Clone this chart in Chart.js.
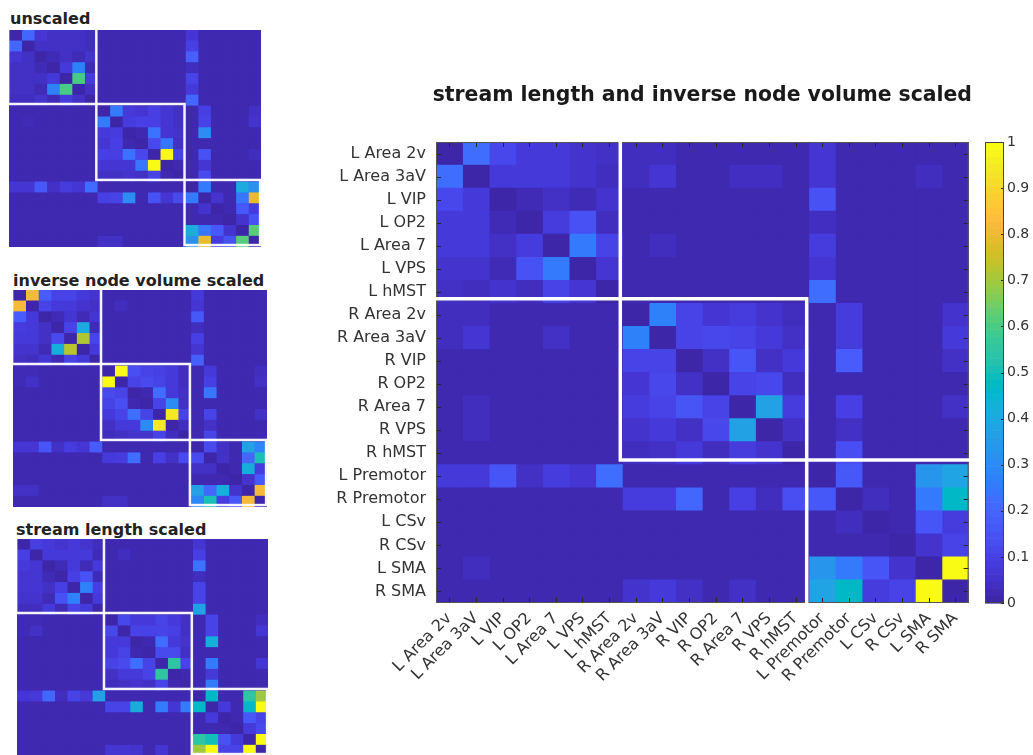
<!DOCTYPE html>
<html><head><meta charset="utf-8">
<script src="https://cdn.jsdelivr.net/npm/chart.js@4/dist/chart.umd.min.js"></script>
<style>
html,body{margin:0;padding:0;background:#fff;width:1033px;height:755px;overflow:hidden;position:relative;}
canvas{position:absolute;}
.t{position:absolute;font-family:"DejaVu Sans";font-weight:bold;font-size:16px;line-height:19px;color:#222;white-space:nowrap;}
</style></head><body>
<div class="t" style="left:10px;top:9px">unscaled</div>
<div class="t" style="left:13px;top:271px">inverse node volume scaled</div>
<div class="t" style="left:16px;top:520px">stream length scaled</div>
<canvas id="cU" width="252" height="217" style="left:9px;top:30px"></canvas>
<canvas id="cI" width="254" height="217" style="left:13px;top:290px"></canvas>
<canvas id="cS" width="251" height="217" style="left:17px;top:539px"></canvas>
<canvas id="cMain" width="675" height="755" style="left:300px;top:0px"></canvas>
<canvas id="cBar" width="58" height="755" style="left:975px;top:0px"></canvas>
<script>
const rowLabels = ['L Area 2v','L Area 3aV','L VIP','L OP2','L Area 7','L VPS','L hMST','R Area 2v','R Area 3aV','R VIP','R OP2','R Area 7','R VPS','R hMST','L Premotor','R Premotor','L CSv','R CSv','L SMA','R SMA'];
const colLabels = ['L Area 2v','L Area 3aV','L VIP','L OP2','L Area 7','L VPS','L hMST','R Area 2v','R Area 3aV','R VIP','R OP2','R Area 7','R VPS','R hMST','L Premotor','R Premotor','L CSv','R CSv','L SMA','R SMA'];
const colorbarTicks = [0,0.1,0.2,0.3,0.4,0.5,0.6,0.7,0.8,0.9,1];
const groupEdges = [0,7,14,20];

const mainValues = [
[0,.22,.11,.07,.07,.05,.04,.03,.03,.01,.01,.01,.01,.01,.06,.01,.01,.01,.01,.01],
[.22,0,.07,.07,.07,.05,.03,.03,.06,.01,.01,.035,.035,.01,.06,.01,.01,.01,.03,.01],
[.11,.07,0,.02,.04,.02,.05,.01,.01,.01,.01,.01,.01,.01,.14,.01,.01,.01,.01,.01],
[.07,.07,.02,0,.08,.14,.03,.01,.01,.01,.01,.01,.01,.01,.035,.01,.01,.01,.01,.01],
[.07,.07,.04,.08,0,.25,.10,.01,.03,.01,.01,.01,.01,.01,.08,.01,.01,.01,.01,.01],
[.05,.05,.02,.14,.25,0,.06,.01,.01,.01,.01,.01,.01,.01,.06,.01,.01,.01,.01,.01],
[.04,.03,.05,.03,.10,.06,0,.01,.01,.01,.01,.01,.01,.01,.22,.01,.01,.01,.01,.01],
[.03,.03,.01,.01,.01,.01,.01,0,.27,.10,.06,.08,.05,.03,.01,.08,.01,.01,.01,.05],
[.03,.06,.01,.01,.04,.01,.01,.27,0,.10,.11,.10,.07,.04,.01,.08,.01,.01,.01,.07],
[.01,.01,.01,.01,.01,.01,.01,.10,.10,0,.04,.15,.04,.07,.01,.17,.01,.01,.01,.04],
[.01,.01,.01,.01,.01,.01,.01,.06,.11,.04,0,.10,.11,.03,.01,.01,.01,.01,.01,.01],
[.01,.03,.01,.01,.01,.01,.01,.08,.10,.15,.10,0,.37,.08,.01,.09,.01,.01,.01,.04],
[.01,.03,.01,.01,.01,.01,.01,.05,.07,.04,.11,.37,0,.04,.01,.04,.01,.01,.01,.01],
[.01,.01,.01,.01,.01,.01,.01,.03,.04,.07,.03,.08,.05,0,.01,.13,.01,.01,.01,.01],
[.07,.07,.15,.04,.08,.06,.22,.01,.01,.01,.01,.01,.01,.01,0,.16,.01,.01,.33,.38],
[.01,.01,.01,.01,.01,.01,.01,.08,.08,.20,.01,.09,.03,.13,.16,0,.03,.01,.25,.47],
[.01,.01,.01,.01,.01,.01,.01,.01,.01,.01,.01,.01,.01,.01,.01,.03,0,.01,.15,.08],
[.01,.01,.01,.01,.01,.01,.01,.01,.01,.01,.01,.01,.01,.01,.01,.01,.01,0,.05,.10],
[.01,.03,.01,.01,.01,.01,.01,.01,.01,.01,.01,.01,.01,.01,.33,.25,.15,.05,0,1.0],
[.01,.01,.01,.01,.01,.01,.01,.05,.07,.04,.01,.04,.01,.01,.38,.47,.08,.10,1.0,0]
];

const unscaledValues = [
[0,.20,.06,.04,.04,.04,.03,.01,.01,.01,.01,.01,.01,.01,.06,.01,.01,.01,.01,.01],
[.20,0,.04,.04,.04,.04,.03,.01,.01,.01,.01,.01,.01,.01,.09,.01,.01,.01,.01,.01],
[.06,.04,0,.02,.04,.02,.05,.01,.01,.01,.01,.01,.01,.01,.18,.01,.01,.01,.01,.01],
[.04,.04,.02,0,.07,.27,.02,.01,.01,.01,.01,.01,.01,.01,.03,.01,.01,.01,.01,.01],
[.04,.04,.04,.07,0,.60,.08,.01,.01,.01,.01,.01,.01,.01,.10,.01,.01,.01,.01,.01],
[.04,.04,.02,.27,.60,0,.04,.01,.01,.01,.01,.01,.01,.01,.07,.01,.01,.01,.01,.01],
[.03,.03,.05,.02,.08,.04,0,.01,.01,.01,.01,.01,.01,.01,.20,.01,.01,.01,.01,.01],
[.01,.01,.01,.01,.01,.01,.01,0,.25,.07,.06,.09,.06,.04,.01,.09,.01,.01,.01,.04],
[.01,.02,.01,.01,.01,.01,.01,.25,0,.08,.09,.09,.06,.04,.01,.10,.01,.01,.01,.05],
[.01,.01,.01,.01,.01,.01,.01,.07,.08,0,.01,.23,.06,.05,.01,.30,.01,.01,.01,.01],
[.01,.01,.01,.01,.01,.01,.01,.06,.09,.01,0,.11,.24,.04,.01,.01,.01,.01,.01,.01],
[.01,.01,.01,.01,.01,.01,.01,.09,.09,.23,.11,0,1.0,.10,.01,.14,.01,.01,.01,.03],
[.01,.01,.01,.01,.01,.01,.01,.06,.06,.06,.24,1.0,0,.01,.01,.06,.01,.01,.01,.01],
[.01,.01,.01,.01,.01,.01,.01,.04,.04,.05,.04,.10,.01,0,.01,.12,.01,.01,.01,.01],
[.06,.06,.16,.04,.08,.06,.21,.01,.01,.01,.01,.01,.01,.01,0,.25,.01,.01,.40,.32],
[.01,.01,.01,.01,.01,.01,.01,.09,.10,.30,.01,.14,.06,.12,.25,0,.05,.01,.24,.80],
[.01,.01,.01,.01,.01,.01,.01,.01,.01,.01,.01,.01,.01,.01,.01,.05,0,.01,.16,.08],
[.01,.01,.01,.01,.01,.01,.01,.01,.01,.01,.01,.01,.01,.01,.01,.01,.01,0,.05,.14],
[.01,.01,.01,.01,.01,.01,.01,.01,.01,.01,.01,.01,.01,.01,.40,.24,.16,.05,0,.62],
[.01,.01,.01,.01,.01,.01,.01,.04,.04,.01,.01,.01,.01,.01,.32,.80,.08,.14,.62,0]
];

const inverseValues = [
[0,.82,.17,.10,.10,.07,.05,.01,.01,.01,.01,.01,.01,.01,.07,.01,.01,.01,.01,.01],
[.82,0,.10,.07,.07,.05,.04,.01,.03,.01,.01,.01,.01,.01,.06,.01,.01,.01,.01,.01],
[.17,.07,0,.02,.06,.02,.06,.01,.01,.01,.01,.01,.01,.01,.16,.01,.01,.01,.01,.01],
[.08,.07,.04,0,.10,.40,.02,.01,.01,.01,.01,.01,.01,.01,.03,.01,.01,.01,.01,.01],
[.07,.07,.04,.12,0,.72,.10,.01,.01,.01,.01,.01,.01,.01,.09,.01,.01,.01,.01,.01],
[.05,.05,.02,.42,.73,0,.07,.01,.01,.01,.01,.01,.01,.01,.06,.01,.01,.01,.01,.01],
[.04,.03,.06,.02,.10,.07,0,.01,.01,.01,.01,.01,.01,.01,.18,.01,.01,.01,.01,.01],
[.02,.02,.01,.01,.01,.01,.01,0,1.0,.13,.10,.09,.07,.03,.01,.07,.01,.01,.01,.03],
[.02,.04,.01,.01,.01,.01,.01,1.0,0,.10,.12,.10,.07,.03,.01,.09,.01,.01,.01,.04],
[.01,.01,.01,.01,.01,.01,.01,.12,.10,0,.01,.22,.07,.04,.01,.24,.01,.01,.01,.01],
[.01,.01,.01,.01,.01,.01,.01,.10,.13,.01,0,.10,.30,.04,.01,.01,.01,.01,.01,.01],
[.01,.01,.01,.01,.01,.01,.01,.07,.10,.22,.10,0,.95,.10,.01,.10,.01,.01,.01,.04],
[.01,.01,.01,.01,.01,.01,.01,.04,.07,.07,.30,.95,0,.03,.01,.04,.01,.01,.01,.01],
[.01,.01,.01,.01,.01,.01,.01,.03,.04,.05,.05,.10,.03,0,.01,.10,.01,.01,.01,.01],
[.06,.06,.15,.04,.08,.06,.17,.01,.01,.01,.01,.01,.01,.01,0,.12,.04,.01,.37,.28],
[.01,.01,.01,.01,.01,.01,.01,.07,.08,.22,.01,.09,.04,.12,.12,0,.04,.01,.20,.51],
[.01,.01,.01,.01,.01,.01,.01,.01,.01,.01,.01,.01,.01,.01,.04,.04,0,.01,.41,.08],
[.01,.01,.01,.01,.01,.01,.01,.01,.01,.01,.01,.01,.01,.01,.01,.01,.01,0,.05,.16],
[.04,.04,.01,.01,.01,.01,.01,.01,.01,.01,.01,.01,.01,.01,.37,.20,.41,.05,0,.82],
[.01,.01,.01,.01,.01,.01,.01,.04,.04,.01,.01,.01,.01,.01,.28,.51,.08,.16,.82,0]
];

const streamValues = [
[0,.09,.07,.05,.07,.05,.03,.01,.01,.01,.01,.01,.01,.01,.06,.01,.01,.01,.01,.01],
[.09,0,.07,.07,.07,.07,.02,.01,.03,.01,.01,.01,.01,.01,.09,.01,.01,.01,.01,.01],
[.07,.06,0,.02,.07,.02,.07,.01,.01,.01,.01,.01,.01,.01,.23,.01,.01,.01,.01,.01],
[.06,.06,.02,0,.09,.14,.02,.01,.01,.01,.01,.01,.01,.01,.03,.01,.01,.01,.01,.01],
[.06,.06,.04,.09,0,.27,.09,.01,.01,.01,.01,.01,.01,.01,.10,.01,.01,.01,.01,.01],
[.05,.05,.02,.14,.27,0,.07,.01,.01,.01,.01,.01,.01,.01,.10,.01,.01,.01,.01,.01],
[.03,.03,.07,.02,.10,.07,0,.01,.01,.01,.01,.01,.01,.01,.37,.01,.01,.01,.01,.01],
[.02,.02,.01,.01,.01,.01,.01,0,.11,.07,.07,.10,.07,.04,.01,.10,.01,.01,.01,.03],
[.02,.04,.01,.01,.01,.01,.01,.11,0,.10,.10,.10,.09,.04,.01,.10,.01,.01,.01,.06],
[.01,.01,.01,.01,.01,.01,.01,.07,.07,0,.01,.22,.07,.05,.01,.42,.01,.01,.01,.01],
[.01,.01,.01,.01,.01,.01,.01,.07,.10,.01,0,.12,.12,.04,.01,.01,.01,.01,.01,.01],
[.01,.01,.01,.01,.01,.01,.01,.10,.12,.22,.10,0,.55,.10,.01,.25,.01,.01,.01,.06],
[.01,.01,.01,.01,.01,.01,.01,.04,.07,.07,.10,.55,0,.01,.01,.07,.01,.01,.01,.01],
[.01,.01,.01,.01,.01,.01,.01,.03,.04,.05,.04,.10,.01,0,.01,.25,.01,.01,.01,.01],
[.06,.07,.20,.03,.10,.07,.36,.01,.01,.01,.01,.01,.01,.01,0,.47,.01,.01,.55,.70],
[.01,.01,.01,.01,.01,.01,.01,.10,.10,.42,.01,.25,.06,.25,.47,0,.07,.01,.47,1.0],
[.01,.01,.01,.01,.01,.01,.01,.01,.01,.01,.01,.01,.01,.01,.01,.07,0,.01,.16,.10],
[.01,.01,.01,.01,.01,.01,.01,.01,.01,.01,.01,.01,.01,.01,.01,.01,.01,0,.07,.12],
[.01,.01,.01,.01,.01,.01,.01,.01,.01,.01,.01,.01,.01,.01,.55,.50,.14,.07,0,1.0],
[.01,.01,.01,.01,.01,.01,.01,.06,.06,.05,.01,.06,.01,.01,.70,1.0,.10,.10,1.0,0]
];

// MATLAB parula(64) colormap
const PARULA = [
[0.2422,0.1504,0.6603],[0.2504,0.1650,0.7076],[0.2578,0.1818,0.7511],[0.2647,0.1978,0.7952],
[0.2706,0.2147,0.8364],[0.2751,0.2342,0.8710],[0.2783,0.2559,0.8991],[0.2803,0.2782,0.9221],
[0.2813,0.3006,0.9414],[0.2810,0.3228,0.9579],[0.2795,0.3447,0.9717],[0.2760,0.3667,0.9829],
[0.2699,0.3892,0.9906],[0.2602,0.4123,0.9952],[0.2440,0.4358,0.9988],[0.2206,0.4603,0.9973],
[0.1963,0.4847,0.9892],[0.1834,0.5074,0.9798],[0.1786,0.5289,0.9682],[0.1764,0.5499,0.9520],
[0.1687,0.5703,0.9359],[0.1540,0.5902,0.9218],[0.1460,0.6091,0.9079],[0.1380,0.6276,0.8973],
[0.1248,0.6459,0.8883],[0.1113,0.6635,0.8763],[0.0952,0.6798,0.8598],[0.0689,0.6948,0.8394],
[0.0297,0.7082,0.8163],[0.0036,0.7203,0.7917],[0.0067,0.7312,0.7660],[0.0433,0.7411,0.7394],
[0.0964,0.7500,0.7120],[0.1408,0.7584,0.6842],[0.1717,0.7670,0.6554],[0.1938,0.7758,0.6251],
[0.2161,0.7843,0.5923],[0.2470,0.7918,0.5567],[0.2906,0.7973,0.5188],[0.3406,0.8008,0.4789],
[0.3909,0.8029,0.4354],[0.4456,0.8024,0.3909],[0.5044,0.7993,0.3480],[0.5616,0.7942,0.3045],
[0.6174,0.7876,0.2612],[0.6720,0.7793,0.2227],[0.7242,0.7698,0.1910],[0.7738,0.7598,0.1646],
[0.8203,0.7498,0.1535],[0.8634,0.7406,0.1596],[0.9035,0.7330,0.1774],[0.9393,0.7288,0.2100],
[0.9728,0.7298,0.2394],[0.9956,0.7434,0.2371],[0.9970,0.7659,0.2199],[0.9952,0.7893,0.2028],
[0.9892,0.8136,0.1885],[0.9786,0.8386,0.1766],[0.9676,0.8639,0.1643],[0.9610,0.8890,0.1537],
[0.9597,0.9135,0.1423],[0.9628,0.9373,0.1265],[0.9691,0.9606,0.1064],[0.9769,0.9839,0.0805]
];
function parula(v){
  v = Math.max(0, Math.min(1, v));
  const p = v * 63, i = Math.floor(p), f = p - i;
  const a = PARULA[i], b = PARULA[Math.min(63, i + 1)];
  const c = k => Math.round(255 * (a[k] + (b[k] - a[k]) * f));
  return 'rgb(' + c(0) + ',' + c(1) + ',' + c(2) + ')';
}

Chart.defaults.font.family = 'DejaVu Sans';
Chart.defaults.color = '#262626';

function heatDatasets(matrix){
  return colLabels.map((c, j) => ({
    label: c,
    data: rowLabels.map(() => [j, j + 1]),
    backgroundColor: rowLabels.map((_, i) => parula(matrix[i][j])),
    borderWidth: 0,
    barPercentage: 1,
    categoryPercentage: 1,
    grouped: false
  }));
}

const boxPlugin = {
  id: 'boxes',
  beforeDatasetsDraw(chart) {
    const a = chart.chartArea, ctx = chart.ctx;
    ctx.save();
    ctx.fillStyle = parula(0.01);
    ctx.fillRect(a.left, a.top, a.right - a.left, a.bottom - a.top);
    ctx.restore();
  },
  afterDatasetsDraw(chart, args, opts) {
    const ctx = chart.ctx, xs = chart.scales.x, ys = chart.scales.y, a = chart.chartArea;
    const X = v => xs.getPixelForValue(v + opts.dx);
    const Y = k => ys.getPixelForValue(k - 0.5 + opts.dy);
    ctx.save();
    if (opts.axes) {
      ctx.strokeStyle = '#262626';
      ctx.lineWidth = 1;
      ctx.beginPath();
      rowLabels.forEach((_, i) => {
        const py = Math.round(ys.getPixelForValue(i)) + 0.5;
        ctx.moveTo(a.left, py); ctx.lineTo(a.left + 5, py);
        ctx.moveTo(a.right, py); ctx.lineTo(a.right - 5, py);
      });
      colLabels.forEach((_, j) => {
        const px = Math.round(xs.getPixelForValue(j + 0.5)) + 0.5;
        ctx.moveTo(px, a.top); ctx.lineTo(px, a.top + 5);
        ctx.moveTo(px, a.bottom); ctx.lineTo(px, a.bottom - 5);
      });
      ctx.stroke();
      ctx.strokeStyle = '#555';
      ctx.strokeRect(a.left + 0.5, a.top + 0.5, a.right - a.left - 1, a.bottom - a.top - 1);
      ctx.strokeStyle = '#ffffff';
      ctx.lineWidth = opts.lineWidth;
      const g = groupEdges;
      ctx.beginPath();
      ctx.moveTo(X(g[1]), a.top - 2); ctx.lineTo(X(g[1]), Y(g[2]) + 1.5);
      ctx.moveTo(a.left - 1, Y(g[1])); ctx.lineTo(X(g[2]) + 1.5, Y(g[1]));
      ctx.moveTo(X(g[2]), Y(g[1]) - 1.5); ctx.lineTo(X(g[2]), a.bottom + 2);
      ctx.moveTo(X(g[1]) - 1.5, Y(g[2])); ctx.lineTo(a.right + 5, Y(g[2]));
      ctx.stroke();
    } else {
      ctx.strokeStyle = 'rgba(255,255,255,0.95)';
      ctx.lineWidth = opts.lineWidth;
      for (let k = 0; k < 3; k++) {
        const e0 = groupEdges[k], e1 = groupEdges[k + 1];
        ctx.strokeRect(X(e0), Y(e0), X(e1) - X(e0), Y(e1) - Y(e0));
      }
    }
    ctx.restore();
  },
  afterDraw(chart, args, opts) {
    if (!opts.title) return;
    const ctx = chart.ctx, a = chart.chartArea;
    ctx.save();
    ctx.font = 'bold 20.4px "DejaVu Sans"';
    ctx.fillStyle = '#1a1a1a';
    ctx.textAlign = 'center';
    ctx.textBaseline = 'alphabetic';
    ctx.fillText(opts.title, (a.left + a.right) / 2, opts.titleY);
    ctx.restore();
  }
};

function smallChart(id, matrix){
  return new Chart(document.getElementById(id), {
    type: 'bar',
    data: { labels: rowLabels, datasets: heatDatasets(matrix) },
    options: {
      indexAxis: 'y', responsive: false, animation: false,
      layout: { padding: 0 },
      plugins: { legend: { display: false }, tooltip: { enabled: false },
        boxes: { axes: false, dx: -0.07, dy: -0.18, lineWidth: 2.5 } },
      scales: {
        x: { type: 'linear', min: 0, max: 20, display: false },
        y: { type: 'category', display: false }
      }
    },
    plugins: [boxPlugin]
  });
}
smallChart('cU', unscaledValues);
smallChart('cI', inverseValues);
smallChart('cS', streamValues);

new Chart(document.getElementById('cMain'), {
  type: 'bar',
  data: { labels: rowLabels, datasets: heatDatasets(mainValues) },
  options: {
    indexAxis: 'y', responsive: false, animation: false,
    layout: { padding: { top: 142, right: 5, left: 0, bottom: 0 } },
    plugins: { legend: { display: false }, tooltip: { enabled: false },
      boxes: { axes: true, dx: -0.08, dy: -0.2, lineWidth: 3.5,
        title: 'stream length and inverse node volume scaled', titleY: 101 } },
    scales: {
      x: {
        type: 'linear', min: 0, max: 20, position: 'bottom',
        afterBuildTicks: s => { s.ticks = colLabels.map((_, j) => ({ value: j + 0.5 })); },
        afterFit: s => { s.height = 152; },
        ticks: { autoSkip: false, minRotation: 45, maxRotation: 45, padding: 6,
          color: '#333', font: { size: 16 }, callback: (v, i) => colLabels[i] },
        grid: { display: false, drawTicks: false }, border: { display: false }
      },
      y: {
        type: 'category',
        afterFit: s => { s.width = 136; },
        ticks: { padding: 10, color: '#333', font: { size: 16 }, autoSkip: false },
        grid: { display: false, drawTicks: false }, border: { display: false }
      }
    }
  },
  plugins: [boxPlugin]
});

const colorbarPlugin = {
  id: 'colorbar',
  beforeDatasetsDraw(chart) {
    const ctx = chart.ctx, ys = chart.scales.y, a = chart.chartArea;
    ctx.save();
    for (let k = 0; k < PARULA.length; k++) {
      const y0 = ys.getPixelForValue(k / PARULA.length), y1 = ys.getPixelForValue((k + 1) / PARULA.length);
      ctx.fillStyle = parula(k / (PARULA.length - 1));
      ctx.fillRect(a.left, y1, a.right - a.left, y0 - y1 + 0.6);
    }
    ctx.strokeStyle = '#262626'; ctx.lineWidth = 1;
    ctx.beginPath();
    colorbarTicks.forEach(t => {
      const py = Math.round(ys.getPixelForValue(t)) + 0.5;
      ctx.moveTo(a.right, py); ctx.lineTo(a.right - 3, py);
    });
    ctx.stroke();
    ctx.strokeStyle = '#444';
    ctx.strokeRect(a.left + 0.5, a.top + 0.5, a.right - a.left - 1, a.bottom - a.top - 1);
    ctx.restore();
  }
};

new Chart(document.getElementById('cBar'), {
  type: 'bar',
  data: { labels: [''], datasets: [{ data: [null] }] },
  options: {
    responsive: false, animation: false,
    layout: { padding: { left: 10, top: 142, bottom: 152, right: 0 } },
    plugins: { legend: { display: false }, tooltip: { enabled: false } },
    scales: {
      x: { display: false },
      y: {
        position: 'right', min: 0, max: 1,
        afterBuildTicks: s => { s.ticks = colorbarTicks.map(v => ({ value: v })); },
        afterFit: s => { s.width = 29; },
        ticks: { padding: 3, color: '#333', font: { size: 14 },
          callback: v => String(Math.round(v * 10) / 10) },
        grid: { display: false, drawTicks: false }, border: { display: false }
      }
    }
  },
  plugins: [colorbarPlugin]
});
</script>
</body></html>
